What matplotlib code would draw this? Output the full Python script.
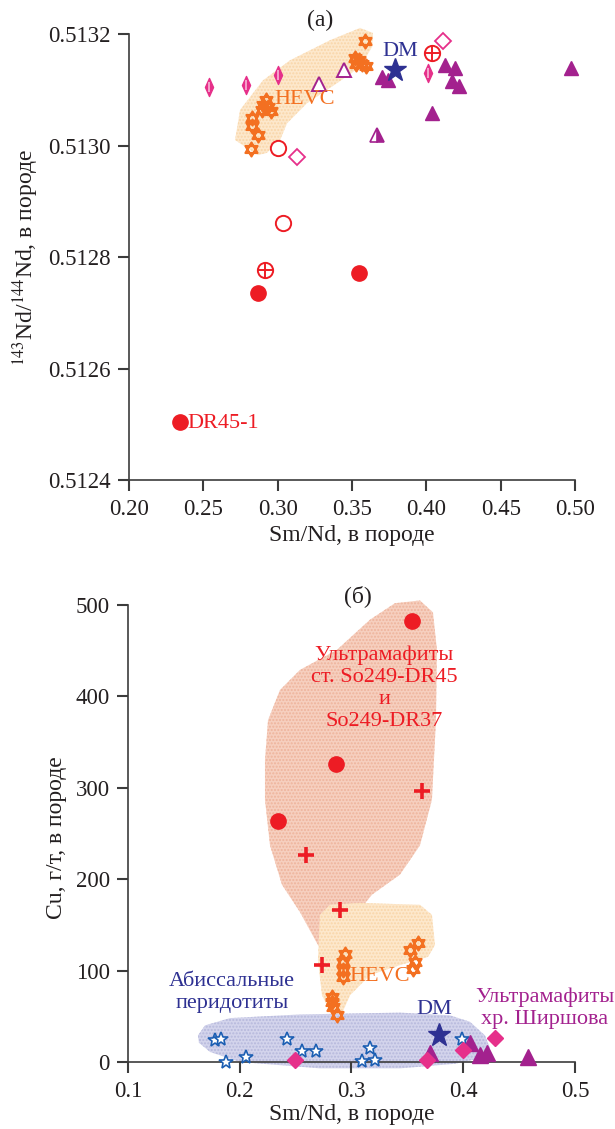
import numpy as np
import matplotlib
matplotlib.use("Agg")
from matplotlib import pyplot as plt
from matplotlib.path import Path
from matplotlib.patches import Polygon

plt.rcParams['font.family'] = ['Liberation Serif', 'DejaVu Serif']
plt.rcParams['mathtext.fontset'] = 'stix'
plt.rcParams['hatch.linewidth'] = 1.0

# ---------------- data, panel (a): Sm/Nd vs 143Nd/144Nd ----------------
hevc_a_x = [0.3584, 0.3517, 0.3544, 0.3564, 0.3591, 0.3530, 0.2922, 0.2902,
            0.2935, 0.2895, 0.2956, 0.2828, 0.2828, 0.2868, 0.2821]
hevc_a_y = [0.513187, 0.513158, 0.513153, 0.513146, 0.513142, 0.513146, 0.513082, 0.513073,
            0.513069, 0.513064, 0.513062, 0.513050, 0.513035, 0.513019, 0.512994]
dia_a_x = [0.2538, 0.2787, 0.3002, 0.4011]
dia_a_y = [0.513105, 0.513109, 0.513126, 0.513131]
odia_a_x = [0.4112, 0.3130]
odia_a_y = [0.513187, 0.512979]
tri_a_x = [0.3702, 0.3742, 0.4126, 0.4193, 0.4173, 0.4220, 0.4038, 0.4973]
tri_a_y = [0.513123, 0.513117, 0.513144, 0.513139, 0.513116, 0.513107, 0.513058, 0.513139]
htri_a_x = [0.3668]
htri_a_y = [0.513019]
otri_a_x = [0.3446, 0.3278]
otri_a_y = [0.513135, 0.513110]
ocross_a_x = [0.4038, 0.2915]
ocross_a_y = [0.513166, 0.512777]
ocirc_a_x = [0.3002, 0.3036]
ocirc_a_y = [0.512995, 0.512861]
circ_a_x = [0.2868, 0.3547, 0.2343]
circ_a_y = [0.512735, 0.512771, 0.512504]
dm_a = (0.3789, 0.513135)
hevc_a_area_x = [0.2868, 0.2713, 0.2747, 0.2901, 0.3083, 0.3352, 0.3554, 0.3641,
                 0.3635, 0.3554, 0.3399, 0.3197, 0.3063, 0.3016, 0.2928]
hevc_a_area_y = [0.512983, 0.513010, 0.513064, 0.513117, 0.513153, 0.513189, 0.513211, 0.513202,
                 0.513177, 0.513141, 0.513112, 0.513076, 0.513040, 0.513010, 0.512987]

# ---------------- data, panel (б): Sm/Nd vs Cu ----------------
circ_b_x = [0.3539, 0.2861, 0.2345]
circ_b_y = [482, 326, 264]
plus_b_x = [0.3628, 0.2593, 0.2897, 0.2733]
plus_b_y = [296, 226, 166, 106]
hevc_b_x = [0.2942, 0.2924, 0.2924, 0.2924, 0.2826, 0.2826, 0.2834, 0.2870,
            0.3523, 0.3595, 0.3568, 0.3550]
hevc_b_y = [118, 109, 101, 93, 71, 66, 60, 51, 123, 130, 109, 102]
abys_x = [0.1779, 0.1832, 0.1877, 0.2056, 0.2423, 0.2557, 0.2682, 0.3094, 0.3166, 0.3210, 0.3989]
abys_y = [24, 25, 0, 5, 25, 12, 12, 1, 15, 2, 25]
dia_b_x = [0.2494, 0.3676, 0.3998, 0.4284]
dia_b_y = [2, 2, 13, 26]
tri_b_x = [0.3702, 0.4060, 0.4150, 0.4213, 0.4579]
tri_b_y = [10, 21, 8, 10, 5]
dm_b = (0.3783, 30)
red_area_x = [0.2226, 0.2253, 0.2360, 0.2539, 0.2870, 0.3166, 0.3389, 0.3613, 0.3729, 0.3765,
              0.3756, 0.3720, 0.3613, 0.3434, 0.3183, 0.3058, 0.2942, 0.2808, 0.2700, 0.2539,
              0.2378, 0.2271, 0.2226]
red_area_y = [330, 374, 407, 429, 451, 484, 502, 505, 492, 451,
              374, 287, 237, 205, 183, 164, 134, 112, 128, 164,
              194, 237, 287]
hevc_b_area_x = [0.2718, 0.2808, 0.3076, 0.3613, 0.3720, 0.3747, 0.3685, 0.3434, 0.3166,
                 0.2987, 0.2897, 0.2826, 0.2736, 0.2700]
hevc_b_area_y = [161, 172, 174, 172, 161, 128, 115, 106, 95, 73, 48, 51, 73, 112]
abys_area_x = [0.1626, 0.1689, 0.1913, 0.2539, 0.3434, 0.3881, 0.4060, 0.4195, 0.4239, 0.4150,
               0.3926, 0.3434, 0.2718, 0.2002, 0.1734, 0.1635]
abys_area_y = [29, 40, 48, 52, 54, 51, 44, 29, 15, 4, -2, -7, -7, 0, 11, 21]

RED = '#ed1c24'
ORANGE = '#f37021'
MAGENTA = '#e6308a'
PURPLE = '#a3218e'
BLUE = '#2e3192'
LBLUE = '#1c5fb3'
AXC = '#3c3c3c'
TXT = '#231f20'

# star of David marker (two triangles)
ang1 = np.deg2rad([90, 210, 330, 90])
ang2 = np.deg2rad([270, 30, 150, 270])
verts = list(zip(np.cos(ang1), np.sin(ang1))) + list(zip(np.cos(ang2), np.sin(ang2)))
codes = [Path.MOVETO, Path.LINETO, Path.LINETO, Path.CLOSEPOLY] * 2
hexagram = Path(verts, codes)
thin_dia = Path([(0, 1), (0.45, 0), (0, -1), (-0.45, 0), (0, 1)],
                [Path.MOVETO, Path.LINETO, Path.LINETO, Path.LINETO, Path.CLOSEPOLY])


def style_axes(ax):
    for s in ['top', 'right']:
        ax.spines[s].set_visible(False)
    for s in ['left', 'bottom']:
        ax.spines[s].set_color(AXC)
        ax.spines[s].set_linewidth(1.2)
    ax.tick_params(direction='out', length=8, width=1.5, color=AXC,
                   labelsize=16.5, pad=5, labelcolor=TXT)


def area(ax, xs, ys, face, dots):
    p = Polygon(np.column_stack([xs, ys]), closed=True, facecolor=face,
                edgecolor=dots, hatch='.....', lw=0, zorder=1, clip_on=False)
    ax.add_patch(p)


fig = plt.figure(figsize=(6.15, 11.29), dpi=100)

# ---------------- panel (a) ----------------
ax = fig.add_axes([0.2098, 0.5748, 0.7252, 0.3950])
style_axes(ax)
ax.set_xlim(0.20, 0.50)
ax.set_ylim(0.5124, 0.5132)
ax.set_xticks(np.arange(0.20, 0.501, 0.05))
ax.set_xticklabels(['%.2f' % v for v in np.arange(0.20, 0.501, 0.05)])
ax.set_yticks(np.arange(0.5124, 0.51321, 0.0002))
ax.set_yticklabels(['%.4f' % v for v in np.arange(0.5124, 0.51321, 0.0002)])
ax.tick_params(axis='x', pad=6)

area(ax, hevc_a_area_x, hevc_a_area_y, '#fde8cc', '#f9d5a8')

kw = dict(linestyle='none', clip_on=False, zorder=3)
ax.plot(hevc_a_x, hevc_a_y, marker=hexagram, ms=10, mfc='none', mec=ORANGE, mew=1.6, **kw)
ax.plot(dia_a_x, dia_a_y, marker=thin_dia, ms=13, mfc=MAGENTA, mec=MAGENTA, mew=1, **kw)
ax.plot(dia_a_x, dia_a_y, marker='|', ms=7, mec='#f7b6d6', mew=1.2, **kw)
ax.plot(odia_a_x, odia_a_y, marker='D', ms=8, mfc='white', mec=MAGENTA, mew=1.3, **kw)
ax.plot(tri_a_x, tri_a_y, marker='^', ms=10, mfc=PURPLE, mec=PURPLE, **kw)
ax.plot(htri_a_x, htri_a_y, marker='^', ms=10, mfc=PURPLE, mec=PURPLE,
        fillstyle='right', markerfacecoloralt='white', mew=1.2, **kw)
ax.plot(otri_a_x, otri_a_y, marker='^', ms=10, mfc='white', mec=PURPLE, mew=1.4, **kw)
ax.plot(ocross_a_x, ocross_a_y, marker='o', ms=11, mfc='white', mec=RED, mew=1.4, **kw)
ax.plot(ocross_a_x, ocross_a_y, marker='+', ms=11, mec=RED, mew=1.4, **kw)
ax.plot(ocirc_a_x, ocirc_a_y, marker='o', ms=11, mfc='white', mec=RED, mew=1.4, **kw)
ax.plot(circ_a_x, circ_a_y, marker='o', ms=11, mfc=RED, mec=RED, **kw)
ax.plot([dm_a[0]], [dm_a[1]], marker='*', ms=17, mfc=BLUE, mec=BLUE, **kw)

ax.text(0.3184, 0.513082, 'HEVC', color=ORANGE, fontsize=16, ha='center', va='center', zorder=4)
ax.text(0.3825, 0.513168, 'DM', color=BLUE, fontsize=16, ha='center', va='center', zorder=4)
ax.text(0.2390, 0.512502, 'DR45-1', color=RED, fontsize=16, ha='left', va='center', zorder=4)
ax.text(0.3285, 0.513225, '(a)', color=TXT, fontsize=17, ha='center', va='center', clip_on=False)

ax.set_xlabel('Sm/Nd, в породе', fontsize=17, labelpad=3, color=TXT)
ax.set_ylabel('$^{143}$Nd/$^{144}$Nd, в породе', fontsize=17, labelpad=5, color=TXT)

# ---------------- panel (б) ----------------
bx = fig.add_axes([0.2081, 0.0529, 0.7268, 0.4112])
style_axes(bx)
bx.set_xlim(0.1, 0.5)
bx.set_ylim(-8, 500)
bx.spines['bottom'].set_position(('data', 0))
bx.set_xticks([0.1, 0.2, 0.3, 0.4, 0.5])
bx.set_xticklabels(['0.1', '0.2', '0.3', '0.4', '0.5'])
bx.set_yticks([0, 100, 200, 300, 400, 500])
bx.tick_params(axis='x', pad=6)

area(bx, red_area_x, red_area_y, '#f6cfbf', '#eeb39b')
area(bx, hevc_b_area_x, hevc_b_area_y, '#fde8cc', '#f9d5a8')
area(bx, abys_area_x, abys_area_y, '#d3d4ec', '#b6b8dc')

bx.plot(circ_b_x, circ_b_y, marker='o', ms=11, mfc=RED, mec=RED, **kw)
bx.plot(plus_b_x, plus_b_y, marker='+', ms=11, mec=RED, mew=2.6, **kw)
bx.plot(hevc_b_x, hevc_b_y, marker=hexagram, ms=10, mfc='none', mec=ORANGE, mew=1.6, **kw)
bx.plot(abys_x, abys_y, marker='*', ms=10, mfc='white', mec=LBLUE, mew=1.2, **kw)
bx.plot(tri_b_x, tri_b_y, marker='^', ms=11, mfc=PURPLE, mec=PURPLE, **kw)
bx.plot(dia_b_x, dia_b_y, marker='D', ms=8.5, mfc=MAGENTA, mec=MAGENTA, **kw)
bx.plot([dm_b[0]], [dm_b[1]], marker='*', ms=17, mfc=BLUE, mec=BLUE, **kw)

bx.text(0.3295, 409, 'Ультрамафиты\nст. So249-DR45\nи\nSo249-DR37', color=RED,
        fontsize=16, ha='center', va='center', linespacing=1.2, zorder=4)
bx.text(0.3255, 93, 'HEVC', color=ORANGE, fontsize=16, ha='center', va='center', zorder=4)
bx.text(0.1931, 76, 'Абиссальные\nперидотиты', color=BLUE, fontsize=16,
        ha='center', va='center', linespacing=1.2, zorder=4)
bx.text(0.3738, 57, 'DM', color=BLUE, fontsize=16, ha='center', va='center', zorder=4)
bx.text(0.4732, 59, 'Ультрамафиты\nхр. Ширшова', color=PURPLE, fontsize=16,
        ha='center', va='center', linespacing=1.2, zorder=4, clip_on=False)
bx.text(0.3060, 510, '(б)', color=TXT, fontsize=17, ha='center', va='center', clip_on=False)

bx.set_xlabel('Sm/Nd, в породе', fontsize=17, labelpad=1, color=TXT)
bx.set_ylabel('Cu, г/т, в породе', fontsize=17, labelpad=6, color=TXT)

fig.savefig('out.png', dpi=100)
